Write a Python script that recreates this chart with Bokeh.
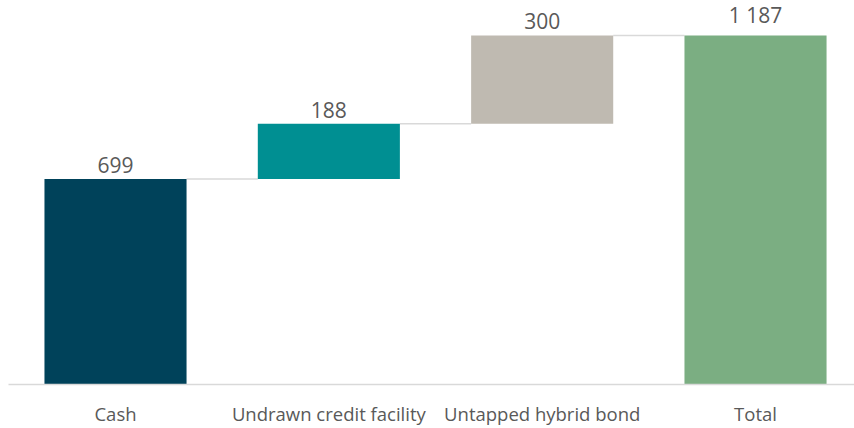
from bokeh.plotting import figure
from bokeh.models import ColumnDataSource, FixedTicker, Range1d
from bokeh.core.properties import value
from bokeh.embed import file_html
from bokeh.resources import INLINE

# Liquidity components (waterfall)
categories = ["Cash", "Undrawn credit facility", "Untapped hybrid bond", "Total"]
amounts = [699, 188, 300, 1187]
value_labels = ["699", "188", "300", "1 187"]
colors = ["#00425A", "#008F92", "#BFBAB1", "#7BAE82"]

# Build bar extents: steps stack on top of each other, total starts at zero
xs = list(range(len(categories)))
bottoms, tops = [], []
running = 0
for i, a in enumerate(amounts):
    if i == len(amounts) - 1:
        bottoms.append(0)
        tops.append(a)
    else:
        bottoms.append(running)
        running += a
        tops.append(running)

bar_w = 0.666
src = ColumnDataSource(dict(x=xs, bottom=bottoms, top=tops, color=colors,
                            label=value_labels))

p = figure(width=854, height=428, output_backend="svg", toolbar_location=None,
           x_range=Range1d(-0.5016, 3.464), y_range=Range1d(0, 1306),
           min_border_left=8, min_border_right=0, min_border_top=0,
           min_border_bottom=44)
p.outline_line_color = None
p.background_fill_color = "white"
p.border_fill_color = "white"
p.grid.visible = False
p.yaxis.visible = False

# connector lines between consecutive bar tops
cx0 = [x + bar_w / 2 for x in xs[:-1]]
cx1 = [x - bar_w / 2 for x in xs[1:]]
cy = tops[:-1]
p.segment(x0=cx0, y0=cy, x1=cx1, y1=cy, line_color="#D9D9D9", line_width=1.6)

p.vbar(x="x", bottom="bottom", top="top", width=bar_w, color="color",
       line_color=None, source=src)

p.text(x="x", y="top", text="label", source=src, text_align="center",
       text_baseline="bottom", y_offset=-6, text_color="#595959",
       text_font=value("Open Sans"), text_font_size="21px")

ax = p.xaxis[0]
ax.ticker = FixedTicker(ticks=xs)
ax.major_label_overrides = {i: c for i, c in enumerate(categories)}
ax.axis_line_color = "#D9D9D9"
ax.axis_line_width = 1.6
ax.major_tick_line_color = None
ax.minor_tick_line_color = None
ax.major_label_standoff = 10
ax.major_label_text_font = "Open Sans"
ax.major_label_text_font_size = "18.5px"
ax.major_label_text_color = "#595959"

open("out.html", "w").write(file_html(p, INLINE))
